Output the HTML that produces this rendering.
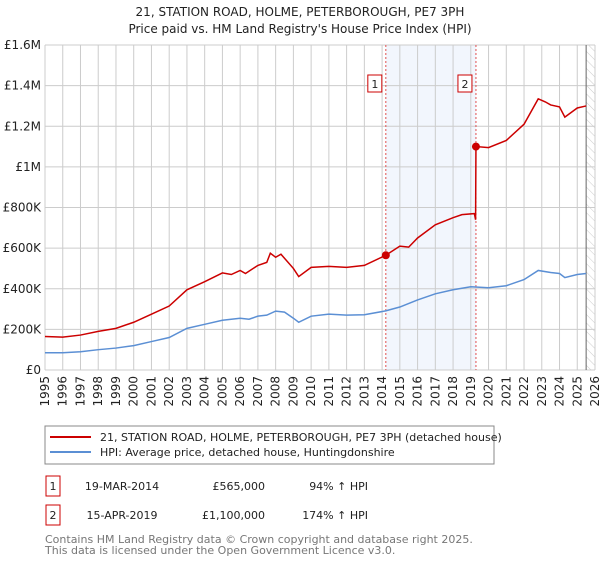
<!DOCTYPE html>
<html><head><meta charset="utf-8"><style>
body{margin:0;background:#fff;font-family:"Liberation Sans","DejaVu Sans",sans-serif;}
svg text{font-family:"DejaVu Sans","Liberation Sans",sans-serif;}
</style></head><body>
<svg id="c" width="600" height="560" xmlns="http://www.w3.org/2000/svg">
<text x="300" y="16" text-anchor="middle" font-size="12" fill="#222">21, STATION ROAD, HOLME, PETERBOROUGH, PE7 3PH</text>
<text x="300" y="33" text-anchor="middle" font-size="12" fill="#222">Price paid vs. HM Land Registry's House Price Index (HPI)</text>
<defs><pattern id="hatch" width="6" height="6" patternUnits="userSpaceOnUse" patternTransform="rotate(-45)"><line x1="0" y1="0" x2="0" y2="6" stroke="#ccc" stroke-width="1"/></pattern></defs>
<g id="grid"></g><g id="marks"></g><g id="axes"></g>
<rect x="45" y="426" width="449" height="38" fill="#fff" stroke="#888"/>
<line x1="50" y1="437" x2="91" y2="437" stroke="#cc0000" stroke-width="2"/>
<text x="100" y="441" font-size="11" fill="#222">21, STATION ROAD, HOLME, PETERBOROUGH, PE7 3PH (detached house)</text>
<line x1="50" y1="452" x2="91" y2="452" stroke="#5b8fd4" stroke-width="2"/>
<text x="100" y="456" font-size="11" fill="#222">HPI: Average price, detached house, Huntingdonshire</text>
<g>
<rect x="46" y="476" width="14" height="20" fill="#fff" stroke="#cc0000"/>
<text x="53" y="490" font-size="11" text-anchor="middle" fill="#222">1</text>
<text x="122" y="490" font-size="11" text-anchor="middle" fill="#222">19-MAR-2014</text>
<text x="265" y="490" font-size="11" text-anchor="end" fill="#222">£565,000</text>
<text x="368" y="490" font-size="11" text-anchor="end" fill="#222">94% ↑ HPI</text></g>
<g>
<rect x="46" y="505" width="14" height="20" fill="#fff" stroke="#cc0000"/>
<text x="53" y="519" font-size="11" text-anchor="middle" fill="#222">2</text>
<text x="122" y="519" font-size="11" text-anchor="middle" fill="#222">15-APR-2019</text>
<text x="265" y="519" font-size="11" text-anchor="end" fill="#222">£1,100,000</text>
<text x="368" y="519" font-size="11" text-anchor="end" fill="#222">174% ↑ HPI</text></g>
<text x="45" y="543" font-size="11" fill="#777">Contains HM Land Registry data © Crown copyright and database right 2025.</text>
<text x="45" y="554" font-size="11" fill="#777">This data is licensed under the Open Government Licence v3.0.</text>
</svg>
<script>
const yTicks=[0,200000,400000,600000,800000,1000000,1200000,1400000,1600000];
const yTickLabels=["£0","£200K","£400K","£600K","£800K","£1M","£1.2M","£1.4M","£1.6M"];
const years=[1995,1996,1997,1998,1999,2000,2001,2002,2003,2004,2005,2006,2007,2008,2009,2010,2011,2012,2013,2014,2015,2016,2017,2018,2019,2020,2021,2022,2023,2024,2025,2026];
const hpiDates=[1995,1996,1997,1998,1999,2000,2001,2002,2003,2004,2005,2006,2006.5,2007,2007.5,2008,2008.5,2009,2009.3,2010,2011,2012,2013,2014.2,2015,2016,2017,2018,2019,2020,2021,2022,2022.8,2023.5,2024,2024.3,2025,2025.5];
const hpiValues=[85000,85000,90000,100000,108000,120000,140000,160000,205000,225000,245000,255000,250000,265000,270000,290000,285000,255000,235000,265000,275000,270000,272000,291000,310000,345000,375000,395000,410000,405000,415000,445000,490000,480000,475000,455000,470000,475000];
const propDates=[1995,1996,1997,1998,1999,2000,2001,2002,2003,2004,2005,2005.5,2006,2006.3,2007,2007.5,2007.7,2008,2008.3,2009,2009.3,2010,2011,2012,2013,2014.21,2015,2015.5,2016,2017,2018,2018.5,2019.2,2019.27,2019.29,2020,2021,2022,2022.8,2023.2,2023.5,2024,2024.3,2025,2025.5];
const propValues=[165000,162000,172000,190000,205000,235000,275000,315000,395000,435000,478000,470000,490000,475000,515000,530000,575000,555000,570000,500000,460000,505000,510000,505000,515000,565000,610000,605000,650000,715000,750000,765000,770000,740000,1100000,1095000,1130000,1210000,1335000,1320000,1305000,1295000,1245000,1290000,1300000];
const saleDates=[2014.21,2019.29];
const saleValues=[565000,1100000];
const saleLabels=["1","2"];
const X0=45,X1=595,Y0=370,Y1=45;
const x=t=>X0+(t-1995)/(2026-1995)*(X1-X0);
const y=v=>Y0-v/1600000*(Y0-Y1);
const NS="http://www.w3.org/2000/svg";
function mk(tag,attrs,parent,txt){const e=document.createElementNS(NS,tag);for(const k in attrs)e.setAttribute(k,attrs[k]);if(txt!=null)e.textContent=txt;document.getElementById(parent).appendChild(e);return e;}
let e;
e=mk('rect',{x:x(saleDates[0]),y:Y1,width:x(saleDates[1])-x(saleDates[0]),height:Y0-Y1,fill:'#f2f6fd'},'grid');


e=mk('rect',{x:x(2025.5),y:Y1,width:X1-x(2025.5),height:Y0-Y1,fill:'url(#hatch)'},'grid');


years.forEach(t=>{e=mk('line',{x1:x(t),x2:x(t),y1:Y1,y2:Y0,stroke:'#ccc'},'grid');


e=mk('text',{x:0,y:0,'font-size':12,fill:'#222','text-anchor':'end',transform:`translate(${x(t)+4},${Y0+6}) rotate(-90)`},'axes',String(t));

});
yTicks.forEach((v,i)=>{e=mk('line',{x1:X0,x2:X1,y1:y(v),y2:y(v),stroke:'#ccc'},'grid');


e=mk('text',{x:X0-4,y:y(v)+4,'font-size':12,fill:'#222','text-anchor':'end'},'axes',yTickLabels[i]);

});
e=mk('line',{x1:x(2025.5),x2:x(2025.5),y1:Y1,y2:Y0,stroke:'#666'},'grid');


saleDates.forEach((d,i)=>{e=mk('line',{x1:x(d),x2:x(d),y1:Y1,y2:Y0,stroke:'#e05050','stroke-dasharray':'2,2'},'marks');


e=mk('rect',{x:x(d)-18,y:75,width:14,height:17,fill:'#fff',stroke:'#cc0000'},'marks');


e=mk('text',{x:x(d)-11,y:88,'font-size':11,'text-anchor':'middle',fill:'#222'},'marks',saleLabels[i]);

});
e=mk('polyline',{points:hpiDates.map((d,i)=>x(d)+','+y(hpiValues[i])).join(' '),fill:'none',stroke:'#5b8fd4','stroke-width':1.5},'marks');


e=mk('polyline',{points:propDates.map((d,i)=>x(d)+','+y(propValues[i])).join(' '),fill:'none',stroke:'#cc0000','stroke-width':1.5},'marks');


saleDates.forEach((d,i)=>{e=mk('circle',{cx:x(d),cy:y(saleValues[i]),r:4,fill:'#cc0000'},'marks');

});
</script>
</body></html>
